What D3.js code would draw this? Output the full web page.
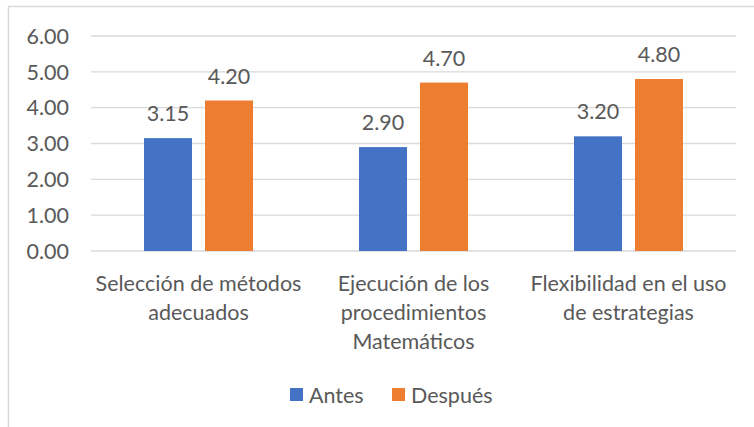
<!DOCTYPE html>
<html>
<head>
<meta charset="utf-8">
<script src="https://cdn.jsdelivr.net/npm/d3@7"></script>
<style>
    body { margin: 0; background: #fff; }
    text { font-family: Lato, "Liberation Sans", sans-serif; fill: #595959; }
</style>
</head>
<body>
<svg id="chart" width="754" height="427"></svg>
<script>
// category labels, already split into lines like in the picture
const categories = [
    ["Selección de métodos", "adecuados"],
    ["Ejecución de los", "procedimientos", "Matemáticos"],
    ["Flexibilidad en el uso", "de estrategias"]
];
const seriesNames = ["Antes", "Después"];
const antes = [3.15, 2.90, 3.20];
const despues = [4.20, 4.70, 4.80];
const yTicks = [0, 1, 2, 3, 4, 5, 6];

const colors = { "Antes": "#4472C4", "Después": "#ED7D31" };

const width = 754;
const height = 427;
const plotLeft = 91;
const plotRight = 736;
const plotTop = 36;
const plotBottom = 251;
const fontSize = "21.5px";

const svg = d3.select("#chart");

// chart frame (only left and top edges are visible in the crop)
svg.append("rect")
    .attr("x", 8.5)
    .attr("y", 6.5)
    .attr("width", 800)
    .attr("height", 500)
    .attr("fill", "none")
    .attr("stroke", "#d9d9d9")
    .attr("stroke-width", 1.5);

const data = categories.map(function (c, i) {
    return { lines: c, key: i, values: [antes[i], despues[i]] };
});

const x0 = d3.scaleBand()
    .domain(data.map(function (d) { return d.key; }))
    .range([plotLeft, plotRight]);

// two bars of 48px with a 13px gap, centred in each band
const x1 = d3.scaleBand()
    .domain(seriesNames)
    .range([x0.bandwidth() / 2 - 54.5, x0.bandwidth() / 2 + 54.5])
    .paddingInner(13 / 61);

const y = d3.scaleLinear()
    .domain([0, 6])
    .range([plotBottom, plotTop]);

// gridlines
svg.append("g")
    .selectAll("line")
    .data(yTicks)
    .join("line")
    .attr("x1", plotLeft)
    .attr("x2", plotRight)
    .attr("y1", function (d) { return y(d); })
    .attr("y2", function (d) { return y(d); })
    .attr("stroke", "#d9d9d9")
    .attr("stroke-width", 1.3);

// y-axis labels
svg.append("g")
    .selectAll("text")
    .data(yTicks)
    .join("text")
    .attr("x", 69)
    .attr("y", function (d) { return y(d); })
    .attr("dy", "0.36em")
    .attr("text-anchor", "end")
    .attr("font-size", fontSize)
    .text(function (d) { return d.toFixed(2); });

// bars and value labels
const groups = svg.append("g")
    .selectAll("g")
    .data(data)
    .join("g")
    .attr("transform", function (d) { return `translate(${x0(d.key)},0)`; });

groups.selectAll("rect")
    .data(function (d) { return d.values.map(function (v, k) { return { name: seriesNames[k], value: v }; }); })
    .join("rect")
    .attr("x", function (d) { return x1(d.name); })
    .attr("y", function (d) { return y(d.value); })
    .attr("width", x1.bandwidth())
    .attr("height", function (d) { return plotBottom - y(d.value); })
    .attr("fill", function (d) { return colors[d.name]; });

groups.selectAll("text.value")
    .data(function (d) { return d.values.map(function (v, k) { return { name: seriesNames[k], value: v }; }); })
    .join("text")
    .attr("class", "value")
    .attr("x", function (d) { return x1(d.name) + x1.bandwidth() / 2; })
    .attr("y", function (d) { return y(d.value) - 17; })
    .attr("text-anchor", "middle")
    .attr("font-size", fontSize)
    .text(function (d) { return d.value.toFixed(2); });

// category labels
const catText = svg.append("g")
    .selectAll("text")
    .data(data)
    .join("text")
    .attr("text-anchor", "middle")
    .attr("font-size", fontSize)
    .attr("x", function (d) { return x0(d.key) + x0.bandwidth() / 2; });

catText.selectAll("tspan")
    .data(function (d) { return d.lines.map(function (l) { return { line: l, cx: x0(d.key) + x0.bandwidth() / 2 }; }); })
    .join("tspan")
    .attr("x", function (d) { return d.cx; })
    .attr("y", function (d, i) { return 291 + i * 29; })
    .text(function (d) { return d.line; });

// legend
const legendX = [290, 392];
const legend = svg.append("g")
    .selectAll("g")
    .data(seriesNames)
    .join("g")
    .attr("transform", function (d, i) { return `translate(${legendX[i]},388)`; });

legend.append("rect")
    .attr("width", 13)
    .attr("height", 13)
    .attr("fill", function (d) { return colors[d]; });

legend.append("text")
    .attr("x", 19)
    .attr("y", 7)
    .attr("dy", "0.36em")
    .attr("font-size", fontSize)
    .text(function (d) { return d; });
</script>
</body>
</html>
